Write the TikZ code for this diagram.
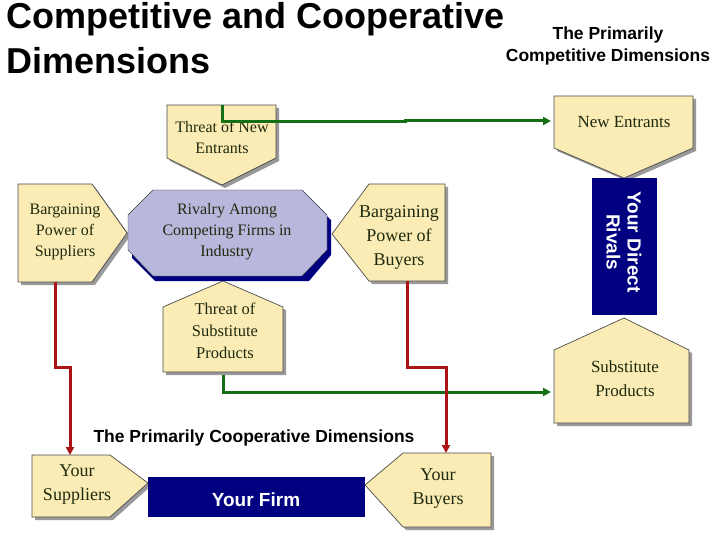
\documentclass[tikz,border=0pt]{standalone}
\usepackage{fontspec}
\setmainfont{Liberation Serif}
\newfontfamily\arial{Liberation Sans}
\usetikzlibrary{arrows.meta}
\definecolor{cream}{HTML}{FBEBB4}
\definecolor{lav}{HTML}{B8B8DC}
\definecolor{navy}{HTML}{000080}
\definecolor{grn}{HTML}{157015}
\definecolor{rd}{HTML}{AA1414}
\definecolor{txt}{HTML}{1E2A10}
\tikzset{
 box/.style={fill=cream,draw=black!70,line width=0.7pt,line join=miter},
 shad/.style={fill=black!40},
 lbl/.style={align=center,text=txt,inner sep=0pt},
 gline/.style={draw=grn,line width=3pt,-{Triangle[length=8pt,width=8pt]}},
 rline/.style={draw=rd,line width=3pt,-{Triangle[length=8pt,width=8pt]}},
}
\begin{document}
\begin{tikzpicture}[x=1pt,y=-1pt]
\useasboundingbox (0,0) rectangle (720,540);
\newcommand\shp[1]{\fill[shad,shift={(3,3)}] #1; \draw[box] #1;}
\shp{(167,105)--(276,105)--(276,158)--(222,185)--(167,158)--cycle}
\shp{(18,184)--(92,184)--(127,233)--(92,282)--(18,282)--cycle}
\shp{(445,184)--(369,184)--(332,234)--(369,281)--(445,281)--cycle}
\shp{(223,281)--(283,307)--(283,372)--(163,372)--(163,307)--cycle}
\shp{(554,96)--(693,96)--(693,148)--(624,178)--(554,148)--cycle}
\shp{(624,318)--(689,350)--(689,423)--(554,423)--(554,350)--cycle}
\shp{(32,455)--(110,455)--(148,483)--(110,517)--(32,517)--cycle}
\shp{(491,453)--(403,453)--(365,485)--(403,527)--(491,527)--cycle}
\fill[navy] (155,195)--(305,195)--(331,220)--(331,255)--(309,281)--(155,281)--(132,258)--(132,217)--cycle;
\draw[fill=lav,draw=black!80] (153,190)--(302,190)--(327,215)--(327,250)--(302,276)--(153,276)--(128,250)--(128,215)--cycle;
\fill[navy] (592,178) rectangle (657,315);
\fill[navy] (148,477) rectangle (365,517);
\node[font=\arial\bfseries\fontsize{36}{45}\selectfont,align=left,anchor=north west,inner sep=0pt] (title) at (6,2) {Competitive and Cooperative\\Dimensions};
\node[font=\arial\bfseries\fontsize{17.5}{22}\selectfont,align=center,inner sep=0pt] (comp) at (608,46) {The Primarily\\Competitive Dimensions};
\node[font=\arial\bfseries\fontsize{17.5}{20}\selectfont,inner sep=0pt] (coop) at (254,438) {The Primarily Cooperative Dimensions};
\node[lbl,font=\fontsize{16}{21}\selectfont] (tne) at (222,137) {Threat of New\\Entrants};
\node[lbl,font=\fontsize{16}{21}\selectfont] (bps) at (65,232) {Bargaining\\Power of\\Suppliers};
\node[lbl,font=\fontsize{16}{21}\selectfont] (riv) at (227,232) {Rivalry Among\\Competing Firms in\\Industry};
\node[lbl,font=\fontsize{18}{24}\selectfont] (bpb) at (399,237) {Bargaining\\Power of\\Buyers};
\node[lbl,font=\fontsize{16.5}{22}\selectfont] (tsp) at (225,331) {Threat of\\Substitute\\Products};
\node[lbl,font=\fontsize{17}{20}\selectfont] (ne) at (624,122) {New Entrants};
\node[lbl,font=\fontsize{17}{24}\selectfont] (sp) at (625,379) {Substitute\\Products};
\node[lbl,font=\fontsize{18}{24}\selectfont] (ys) at (77,485) {Your\\Suppliers};
\node[lbl,font=\fontsize{18}{24}\selectfont] (yb) at (438,489) {Your\\Buyers};
\node[font=\arial\bfseries\fontsize{19}{21}\selectfont,text=white,align=center,rotate=-90,inner sep=0pt] (rivals) at (624,242) {Your Direct\\Rivals};
\node[font=\arial\bfseries\fontsize{19}{21}\selectfont,text=white,inner sep=0pt] (firm) at (256,500) {Your Firm};
\coordinate (a1) at (222,105);
\coordinate (a2) at (551,121);
\coordinate (b1) at (223,375);
\coordinate (b2) at (551,392);
\coordinate (c1) at (55,282);
\coordinate (c2) at (70,455);
\coordinate (d1) at (407,281);
\coordinate (d2) at (446,453);
\draw[gline] (a1) |- (405,122) -- (405,121) -- (a2);
\draw[gline] (b1) |- (b2);
\draw[rline] (c1) |- (70,367) -- (c2);
\draw[rline] (d1) |- (446,367) -- (d2);
\end{tikzpicture}
\end{document}
